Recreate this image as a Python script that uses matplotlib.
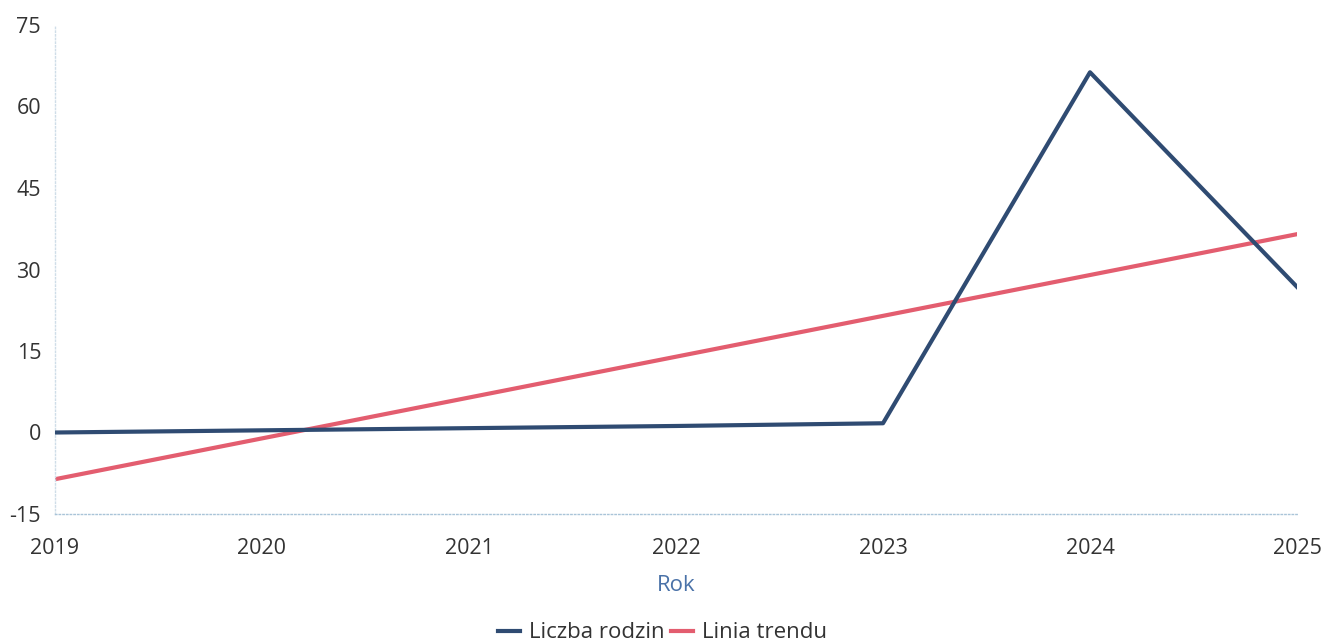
import matplotlib.pyplot as plt

plt.rcParams['font.family'] = ['Open Sans', 'DejaVu Sans']
plt.rcParams['axes.unicode_minus'] = False

years = [2019, 2020, 2021, 2022, 2023, 2024, 2025]
families = [0, 0.4, 0.8, 1.2, 1.7, 66.3, 26.8]
trend_years = [2019, 2025]
trend_values = [-8.6, 36.5]
y_ticks = [-15, 0, 15, 30, 45, 60, 75]

fig = plt.figure(figsize=(13.25, 6.44), dpi=100)
ax = fig.add_axes([55 / 1325, 1 - 514 / 644, (1297 - 55) / 1325, (514 - 25) / 644])

ax.plot(years, families, color='#2f4b72', linewidth=3, label='Liczba rodzin', zorder=3)
ax.plot(trend_years, trend_values, color='#e35d6f', linewidth=3, label='Linia trendu', zorder=2)

ax.set_xlim(2019, 2025)
ax.set_ylim(-15, 75)
ax.set_xticks(years)
ax.set_yticks(y_ticks)
ax.tick_params(axis='both', length=0, labelsize=15.5, labelcolor='#333333')
ax.tick_params(axis='x', pad=17)
ax.tick_params(axis='y', pad=10)

for side in ['top', 'right']:
    ax.spines[side].set_visible(False)
ax.spines['left'].set_color('#cfdde8')
ax.spines['left'].set_linestyle(':')
ax.spines['left'].set_linewidth(1)
ax.spines['bottom'].set_color('#a9c4d8')
ax.spines['bottom'].set_linestyle(':')
ax.spines['bottom'].set_linewidth(1)

ax.set_xlabel('Rok', fontsize=16, color='#4a72a8', labelpad=12)

fig.legend(loc='lower center', bbox_to_anchor=(0.5, -0.03), ncol=2, frameon=False,
           fontsize=16, handlelength=1.0, handletextpad=0.4, columnspacing=0.3,
           labelcolor='#333333')

fig.savefig('out.png', dpi=100)
